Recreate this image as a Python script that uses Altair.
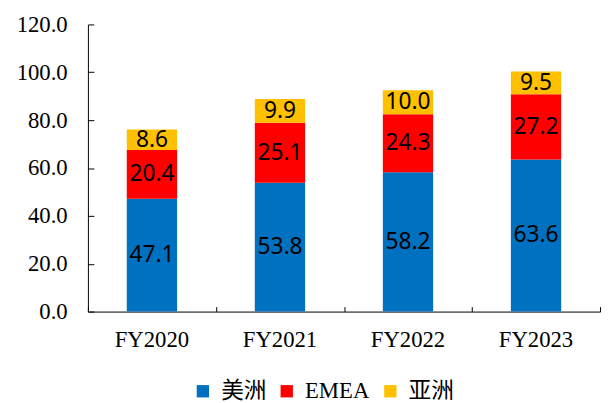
import altair as alt
import pandas as pd

years = ["FY2020", "FY2021", "FY2022", "FY2023"]
regions = ["美洲", "EMEA", "亚洲"]
americas = [47.1, 53.8, 58.2, 63.6]
emea = [20.4, 25.1, 24.3, 27.2]
asia = [8.6, 9.9, 10.0, 9.5]
colors = ["#0070C0", "#FF0000", "#FFC000"]
y_ticks = [0, 20, 40, 60, 80, 100, 120]

rows = []
for i, y in enumerate(years):
    for k, (r, vals) in enumerate(zip(regions, [americas, emea, asia])):
        rows.append({"year": y, "region": r, "value": vals[i], "ord": k})
df = pd.DataFrame(rows)

serif = "'Liberation Serif', 'Times New Roman', 'Noto Sans CJK SC'"

base = alt.Chart(df).transform_stack(
    stack="value", groupby=["year"], sort=[alt.SortField("ord")], as_=["y0", "y1"]
).transform_calculate(mid="(datum.y0 + datum.y1) / 2")

xscale = alt.Scale(domain=years, paddingInner=0, paddingOuter=0)
yscale = alt.Scale(domain=[0, 120], nice=False)

bars = base.mark_bar(size=51).encode(
    x=alt.X("year:N", scale=xscale, sort=years,
            axis=alt.Axis(title=None, labelAngle=0, ticks=False, tickSize=0,
                          labelPadding=17, labelFont=serif, labelFontSize=23,
                          labelColor="black", domainColor="black", grid=False)),
    y=alt.Y("y0:Q", scale=yscale,
            axis=alt.Axis(title=None, values=y_ticks, format=".1f", ticks=False,
                          tickSize=0, labelPadding=21, labelFont=serif,
                          labelFontSize=23, labelColor="black",
                          domainColor="black", grid=False)),
    y2="y1:Q",
    color=alt.Color("region:N", scale=alt.Scale(domain=regions, range=colors),
                    legend=alt.Legend(title=None, orient="none", direction="horizontal",
                                      legendX=105, legendY=360, symbolType="square",
                                      symbolSize=156, symbolStrokeWidth=0,
                                      labelFont=serif, labelFontSize=23,
                                      labelColor="black", labelOffset=7,
                                      columnPadding=9, padding=0)),
    order=alt.Order("ord:Q"),
)

labels = base.mark_text(font="Noto Sans, Open Sans", fontSize=23, color="black").encode(
    x=alt.X("year:N", scale=xscale, sort=years,
            axis=alt.Axis(orient="top", offset=-291, labels=False, domain=False,
                          tickBand="extent", tickSize=5, tickColor="black",
                          title=None, grid=False)),
    y=alt.Y("mid:Q", scale=yscale,
            axis=alt.Axis(orient="right", offset=-519, labels=False, domain=False,
                          values=y_ticks, tickSize=6, tickColor="black",
                          title=None, grid=False)),
    text=alt.Text("value:Q", format=".1f"),
)

chart = alt.layer(bars, labels).resolve_axis(x="independent", y="independent").properties(
    width=519, height=291,
    autosize=alt.AutoSizeParams(type="none"),
    padding={"left": 81, "top": 14, "right": 3, "bottom": 90},
).configure_view(stroke=None)

chart.save("out.html", embed_options={"renderer": "svg", "actions": False})
